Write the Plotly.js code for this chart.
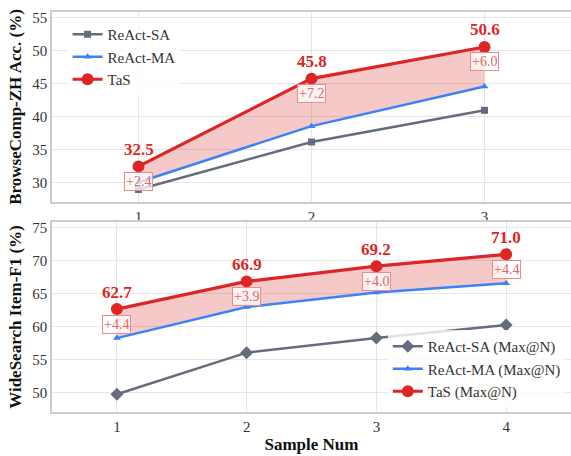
<!DOCTYPE html>
<html>
<head>
<meta charset="utf-8">
<script src="https://cdn.plot.ly/plotly-3.0.1.min.js"></script>
</head>
<body style="margin:0;padding:0;background:#fff">
<div id="chart" style="width:571px;height:456px"></div>
<script>
// Top panel: BrowseComp-ZH
var topX = [1, 2, 3];
var topSA = [29.0, 36.2, 41.0];
var topMA = [30.1, 38.6, 44.6];
var topTaS = [32.5, 45.8, 50.6];
// Bottom panel: WideSearch
var botX = [1, 2, 3, 4];
var botSA = [49.8, 56.1, 58.3, 60.3];
var botMA = [58.3, 63.0, 65.2, 66.6];
var botTaS = [62.7, 66.9, 69.2, 71.0];

var topNames = ['ReAct-SA', 'ReAct-MA', 'TaS'];
var botNames = ['ReAct-SA (Max@N)', 'ReAct-MA (Max@N)', 'TaS (Max@N)'];

var GRAY = '#646d7e', BLUE = '#3b82f6', RED = '#dc2626';
var FONT = 'Liberation Serif';

function series(x, sa, ma, tas, names, xa, ya, leg, saSym, saSize) {
  return [
    {x: x, y: sa, name: names[0], xaxis: xa, yaxis: ya, legend: leg, mode: 'lines+markers',
     line: {color: GRAY, width: 2.5}, marker: {symbol: saSym, size: saSize, color: GRAY}},
    {x: x, y: ma, name: names[1], xaxis: xa, yaxis: ya, legend: leg, mode: 'lines+markers',
     line: {color: BLUE, width: 2.5}, marker: {symbol: 'triangle-up', size: 7, color: BLUE}},
    {x: x, y: tas, xaxis: xa, yaxis: ya, mode: 'none', showlegend: false, hoverinfo: 'skip',
     fill: 'tonexty', fillcolor: 'rgba(220,38,38,0.25)'},
    {x: x, y: tas, name: names[2], xaxis: xa, yaxis: ya, legend: leg, mode: 'lines+markers',
     line: {color: RED, width: 3.2}, marker: {symbol: 'circle', size: 12, color: RED}}
  ];
}

var data = [].concat(
  series(topX, topSA, topMA, topTaS, topNames, 'x', 'y', 'legend', 'square', 7),
  series(botX, botSA, botMA, botTaS, botNames, 'x2', 'y2', 'legend2', 'diamond', 10)
);

var annotations = [];
function addAnn(x, ma, tas, xa, ya) {
  for (var i = 0; i < x.length; i++) {
    annotations.push({x: x[i], y: tas[i], xref: xa, yref: ya, text: tas[i].toFixed(1),
      showarrow: false, yshift: 17, font: {family: FONT, size: 17, color: RED, weight: 'bold'}});
    annotations.push({x: x[i], y: tas[i], xref: xa, yref: ya, text: '+' + (tas[i] - ma[i]).toFixed(1),
      showarrow: false, yshift: -15, font: {family: FONT, size: 14, color: '#e06666'},
      bgcolor: 'rgba(255,255,255,0.75)', bordercolor: '#f08a8a', borderwidth: 1, borderpad: 1});
  }
}
addAnn(topX, topMA, topTaS, 'x', 'y');
addAnn(botX, botMA, botTaS, 'x2', 'y2');

function axis(extra) {
  var a = {showgrid: true, gridcolor: '#e6e6e6', gridwidth: 1, zeroline: false,
    showline: true, mirror: true, linecolor: '#cccccc', linewidth: 1.5, ticks: '',
    tickfont: {family: FONT, size: 15, color: '#333'}};
  for (var k in extra) a[k] = extra[k];
  return a;
}
function ttl(t, s) { return {text: t, standoff: s, font: {family: FONT, size: 17, color: '#111', weight: 'bold'}}; }

var layout = {
  width: 571, height: 456,
  margin: {l: 52, r: 0, t: 12, b: 44},
  paper_bgcolor: '#fff', plot_bgcolor: '#fff',
  font: {family: FONT, color: '#333'},
  showlegend: true,
  xaxis: axis({range: [0.5, 3.5], tickvals: topX, anchor: 'y'}),
  yaxis: axis({domain: [0.525, 1], range: [27.1, 55.9], tickvals: [30, 35, 40, 45, 50, 55], anchor: 'x',
    title: ttl('BrowseComp-ZH Acc. (%)', 6)}),
  xaxis2: axis({range: [0.5, 4.5], tickvals: botX, anchor: 'y2', title: ttl('Sample Num', 4)}),
  yaxis2: axis({domain: [0, 0.475], range: [47.1, 75.9], tickvals: [50, 55, 60, 65, 70, 75], anchor: 'x2',
    title: ttl('WideSearch Item-F1 (%)', 6)}),
  legend: {x: 0.03, y: 0.985, xanchor: 'left', yanchor: 'top', bgcolor: 'rgba(255,255,255,0.8)', traceorder: 'normal',
    font: {family: FONT, size: 15, color: '#333'}, tracegroupgap: 0, itemwidth: 30},
  legend2: {x: 0.647, y: 0.205, xanchor: 'left', yanchor: 'top', bgcolor: 'rgba(255,255,255,0.8)', traceorder: 'normal',
    font: {family: FONT, size: 15, color: '#333'}, tracegroupgap: 0, itemwidth: 30},
  annotations: annotations
};

Plotly.newPlot('chart', data, layout, {displayModeBar: false});
</script>
</body>
</html>
